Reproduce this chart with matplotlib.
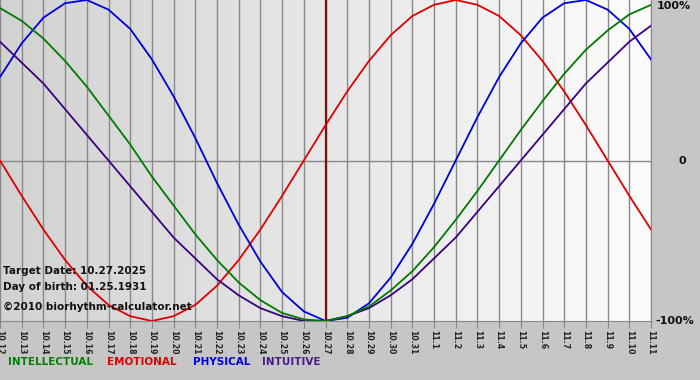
import numpy as np
import matplotlib
matplotlib.use("Agg")
import matplotlib.pyplot as plt

# ================= DATA =================

dates = ["10.12", "10.13", "10.14", "10.15", "10.16", "10.17", "10.18", "10.19",
         "10.20", "10.21", "10.22", "10.23", "10.24", "10.25", "10.26", "10.27",
         "10.28", "10.29", "10.30", "10.31", "11.1", "11.2", "11.3", "11.4",
         "11.5", "11.6", "11.7", "11.8", "11.9", "11.10", "11.11"]

intellectual = [0.95, 0.87, 0.76, 0.62, 0.46, 0.28, 0.10, -0.10, -0.28, -0.46,
                -0.62, -0.76, -0.87, -0.95, -0.99, -1.00, -0.97, -0.91, -0.81,
                -0.69, -0.54, -0.37, -0.19, 0.00, 0.19, 0.37, 0.54, 0.69, 0.81,
                0.91, 0.97]

emotional = [0.00, -0.22, -0.43, -0.62, -0.78, -0.90, -0.97, -1.00, -0.97, -0.90,
             -0.78, -0.62, -0.43, -0.22, 0.00, 0.22, 0.43, 0.62, 0.78, 0.90,
             0.97, 1.00, 0.97, 0.90, 0.78, 0.62, 0.43, 0.22, 0.00, -0.22, -0.43]

physical = [0.52, 0.73, 0.89, 0.98, 1.00, 0.94, 0.82, 0.63, 0.40, 0.14,
            -0.14, -0.40, -0.63, -0.82, -0.94, -1.00, -0.98, -0.89, -0.73, -0.52,
            -0.27, 0.00, 0.27, 0.52, 0.73, 0.89, 0.98, 1.00, 0.94, 0.82, 0.63]

intuitive = [0.74, 0.61, 0.48, 0.32, 0.16, 0.00, -0.16, -0.32, -0.48, -0.61,
             -0.74, -0.84, -0.92, -0.97, -1.00, -1.00, -0.97, -0.92, -0.84, -0.74,
             -0.61, -0.48, -0.32, -0.16, 0.00, 0.16, 0.32, 0.48, 0.61, 0.74, 0.84]

target_date = "10.27"

# ================= FIGURE =================

fig = plt.figure(figsize=(7, 3.8), dpi=100, facecolor="#c6c6c6")
ax = fig.add_axes([0, 59 / 380, 651 / 700, 321 / 380])

x = np.arange(len(dates))

# horizontal gradient background
grad = np.linspace(0, 1, 256).reshape(1, -1)
ax.imshow(grad, extent=[0, len(dates) - 1, -1, 1], aspect="auto",
          cmap=matplotlib.colors.LinearSegmentedColormap.from_list(
              "bg", ["#d2d2d2", "#fcfcfc"]), zorder=0)

# grid
for xi in x:
    ax.axvline(xi, color="#888888", lw=1.0, zorder=1)
ax.axhline(0, color="#888888", lw=1.0, zorder=1)

# target date line
ax.axvline(dates.index(target_date), color="#7a1010", lw=1.6, zorder=2)

lw = 1.3
ax.plot(x, emotional, color="#e00000", lw=lw, zorder=3)
ax.plot(x, physical, color="#0000dd", lw=lw, zorder=3)
ax.plot(x, intuitive, color="#3c0080", lw=lw, zorder=3)
ax.plot(x, intellectual, color="#007a00", lw=lw, zorder=3)

ax.set_xlim(0, len(dates) - 1)
ax.set_ylim(-1, 1)

ax.set_xticks(x)
ax.set_xticklabels(dates, rotation=-90, fontsize=5.6, fontweight="bold",
                   color="#222222")
ax.tick_params(axis="x", length=5, color="#888888", pad=1.5)
ax.set_yticks([])

for side in ["top", "left"]:
    ax.spines[side].set_visible(False)
ax.spines["bottom"].set_color("#888888")
ax.spines["right"].set_color("#888888")

# right side percent labels
ax.text(1.008, 0.997, "100%", transform=ax.transAxes, ha="left", va="top",
        fontsize=8, fontweight="bold", color="#111111")
ax.text(1.042, 0.5, "0", transform=ax.transAxes, ha="left", va="center",
        fontsize=8, fontweight="bold", color="#111111")
ax.text(1.006, 0.0, "-100%", transform=ax.transAxes, ha="left", va="center",
        fontsize=8, fontweight="bold", color="#111111")

# info text
ax.text(0.004, 0.155, "Target Date: 10.27.2025", transform=ax.transAxes,
        fontsize=7.5, fontweight="bold", color="#111111", va="center")
ax.text(0.004, 0.105, "Day of birth: 01.25.1931", transform=ax.transAxes,
        fontsize=7.5, fontweight="bold", color="#111111", va="center")
ax.text(0.004, 0.043, "\u00a92010 biorhythm-calculator.net",
        transform=ax.transAxes, fontsize=7.5, fontweight="bold",
        color="#111111", va="center")

# legend
legend_items = [("INTELLECTUAL", "#008000", 8), ("EMOTIONAL", "#e00000", 107),
                ("PHYSICAL", "#0000dd", 193), ("INTUITIVE", "#4b1a8a", 262)]
for name, col, px in legend_items:
    fig.text(px / 700, 1 - 362 / 380, name, fontsize=7.5, fontweight="bold",
             color=col, va="center")

fig.savefig("out.png", dpi=100, facecolor=fig.get_facecolor())
